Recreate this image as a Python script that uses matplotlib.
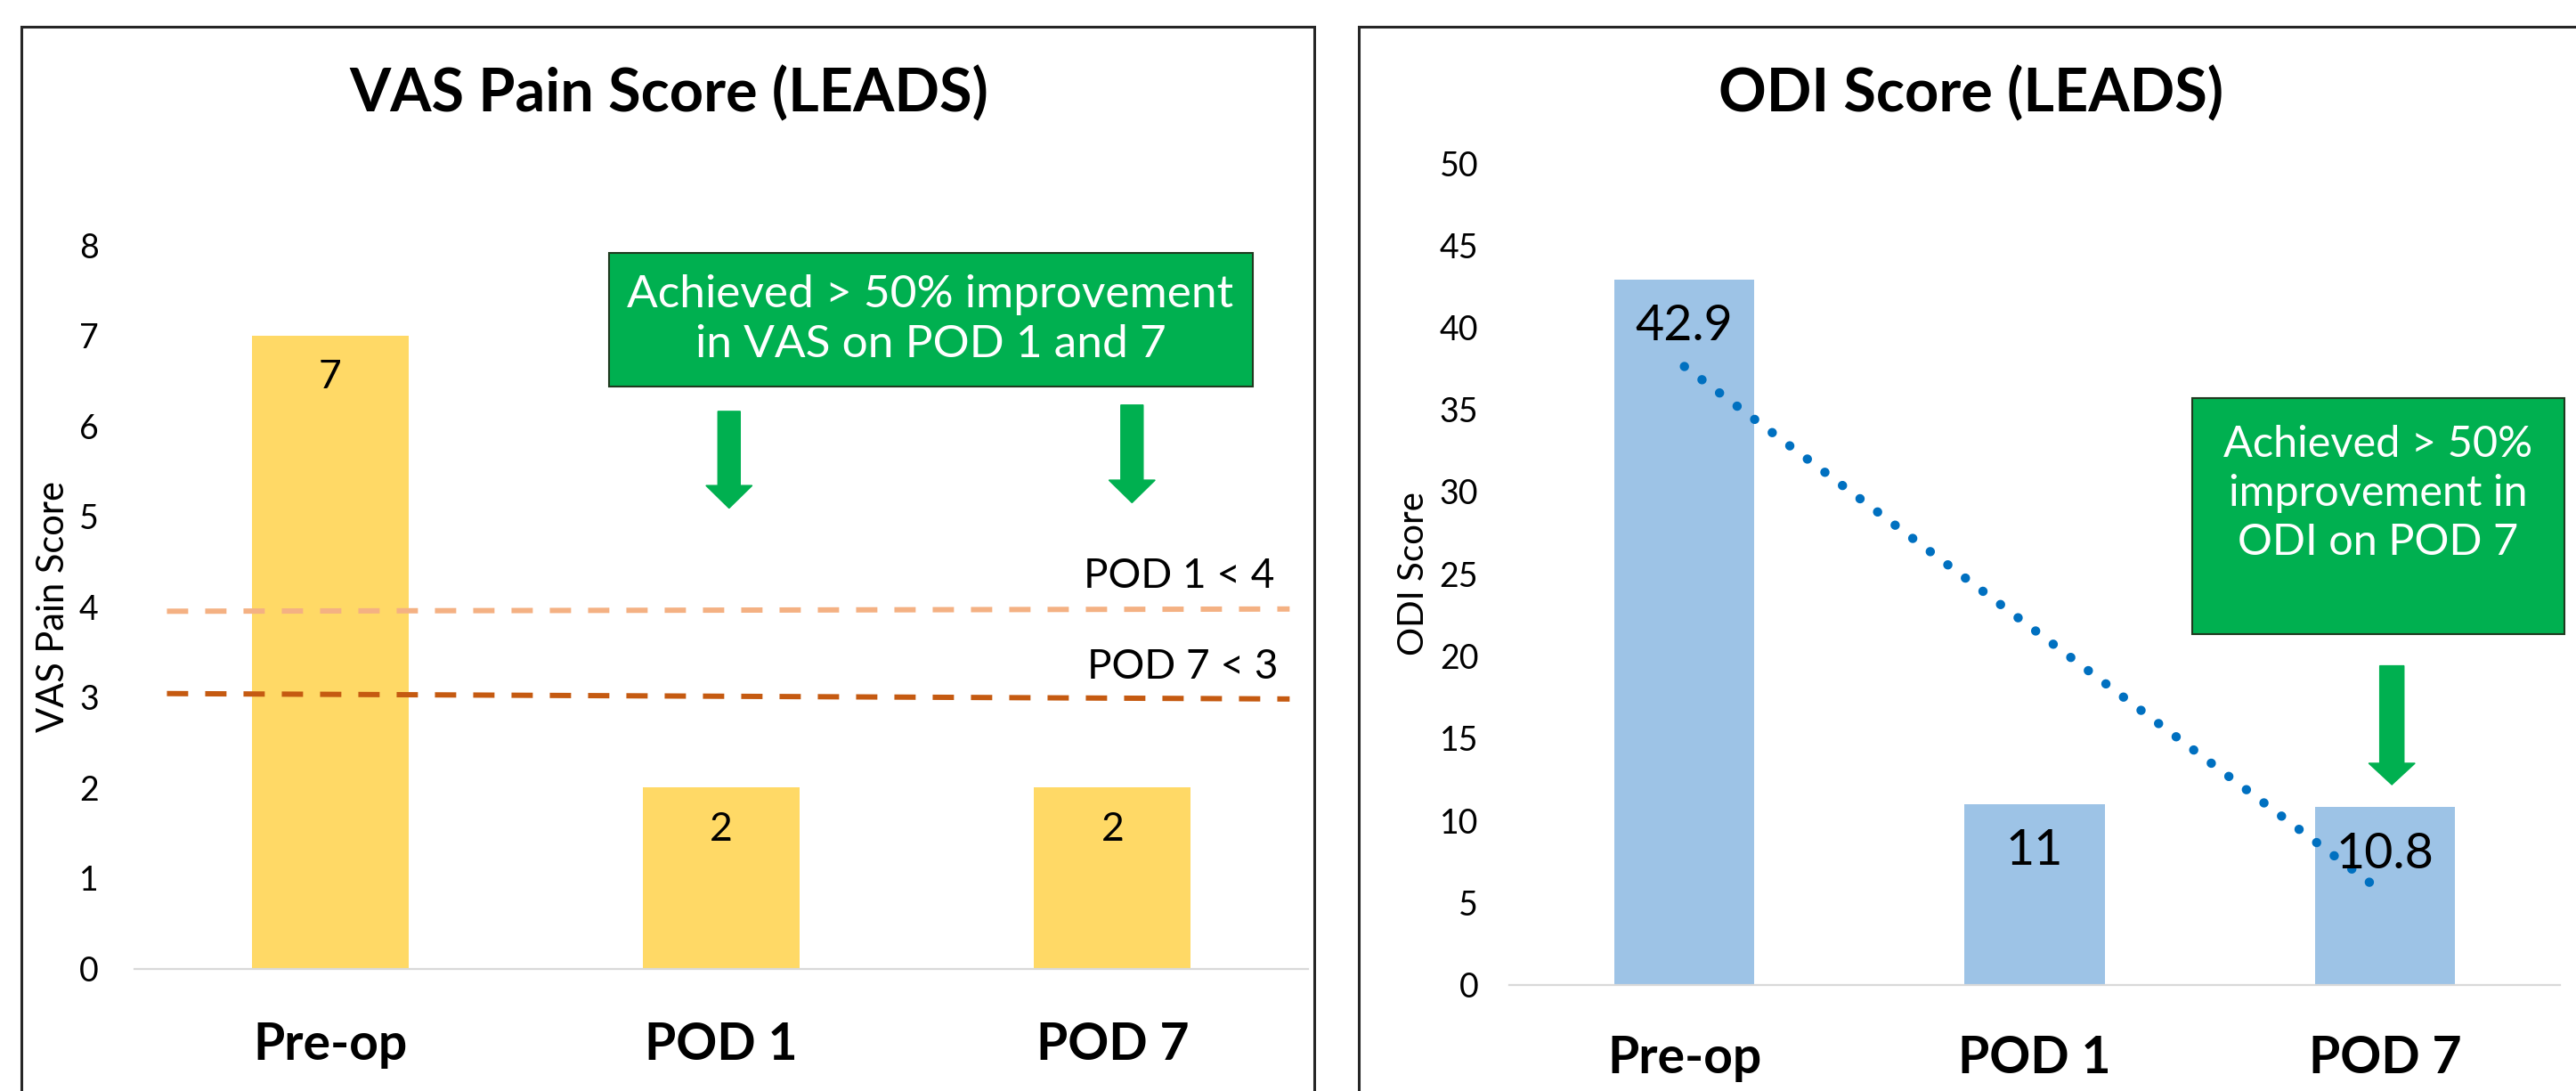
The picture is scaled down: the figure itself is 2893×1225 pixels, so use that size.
import numpy as np
import matplotlib
matplotlib.use("Agg")
import matplotlib.pyplot as plt
from matplotlib.patches import Rectangle, FancyArrow

plt.rcParams['font.family'] = ['Lato', 'DejaVu Sans']

# data
categories = ['Pre-op', 'POD 1', 'POD 7']
vas_scores = [7, 2, 2]
odi_scores = [42.9, 11, 10.8]
vas_targets = [4, 3]
vas_target_labels = ['POD 1 < 4', 'POD 7 < 3']

W, H = 2893, 1225
fig = plt.figure(figsize=(W / 100, H / 100), dpi=100)

# panel frames
fig.patches.append(Rectangle((24 / W, -0.05), (1476 - 24) / W, 1.05 - 30 / H,
                             transform=fig.transFigure, fill=False,
                             edgecolor='#262626', lw=2.2))
fig.patches.append(Rectangle((1526 / W, -0.05), 0.5, 1.05 - 30 / H,
                             transform=fig.transFigure, fill=False,
                             edgecolor='#262626', lw=2.2))


def style_axis(ax, ypad, xpad):
    for side in ['left', 'right', 'top']:
        ax.spines[side].set_visible(False)
    ax.spines['bottom'].set_color('#D9D9D9')
    ax.spines['bottom'].set_linewidth(1.6)
    ax.tick_params(length=0)
    ax.tick_params(axis='y', pad=ypad, labelsize=27)
    ax.tick_params(axis='x', pad=xpad, labelsize=41)
    for lab in ax.get_xticklabels():
        lab.set_fontweight('bold')
    ax.set_xlim(-0.5, 2.5)


x = np.arange(len(categories))

# ---- left: VAS
ax1 = fig.add_axes([151 / W, 1 - 1087.5 / H, 1318 / W, 812.5 / H])
ax1.bar(x, vas_scores, width=0.4, color='#FFD966', zorder=1)
ax1.set_ylim(0, 8)
ax1.set_yticks(range(0, 9))
ax1.set_xticks(x, categories)
style_axis(ax1, 29, 43)
ax1.set_ylabel('VAS Pain Score', fontsize=30, va='center')
ax1.yaxis.set_label_coords(-0.069, 0.5)
for xi, v in zip(x, vas_scores):
    ax1.annotate(str(v), (xi, v), xytext=(0, -34), textcoords='offset points',
                 ha='center', va='center', fontsize=32)

# threshold lines (hand-drawn, slightly off level)
ax1.plot([-0.417, 2.453], [vas_targets[0] - 0.05, vas_targets[0] - 0.025],
         color='#F4B183', lw=4.3, ls=(0, (4, 3.2)), dash_capstyle='butt', zorder=2)
ax1.plot([-0.417, 2.453], [vas_targets[1] + 0.04, vas_targets[1] - 0.02],
         color='#C55A11', lw=4.3, ls=(0, (4, 3.2)), dash_capstyle='butt', zorder=2)
ax1.text(2.415, 4.21, vas_target_labels[0], ha='right', va='baseline', fontsize=33)
ax1.text(2.424, 3.2, vas_target_labels[1], ha='right', va='baseline', fontsize=33)

ax1.add_patch(Rectangle((0.713, 6.43), 2.358 - 0.713, 7.91 - 6.43,
                        facecolor='#00B050', edgecolor='#1F3A1F', lw=1.5,
                        clip_on=False, zorder=3))
ax1.text(1.535, 7.17, 'Achieved > 50% improvement\nin VAS on POD 1 and 7',
         ha='center', va='center', color='white', fontsize=37,
         linespacing=1.27, zorder=4)
for ax_x, top, tip in [(1.02, 6.16, 5.09), (2.05, 6.23, 5.15)]:
    ax1.add_patch(FancyArrow(ax_x, top, 0, tip - top, width=0.057,
                             head_width=0.118, head_length=0.25,
                             length_includes_head=True, color='#00B050',
                             clip_on=False, zorder=3))

fig.text(751 / W, 1 - 125 / H, 'VAS Pain Score (LEADS)', ha='center',
         va='baseline', fontsize=48, fontweight='bold')

# ---- right: ODI
ax2 = fig.add_axes([1695 / W, 1 - 1105.5 / H, 1180 / W, 922.5 / H])
ax2.bar(x, odi_scores, width=0.4, color='#9DC3E6', zorder=1)
ax2.set_ylim(0, 50)
ax2.set_yticks(range(0, 51, 5))
ax2.set_xticks(x, categories)
style_axis(ax2, 25, 41)
ax2.set_ylabel('ODI Score', fontsize=29, va='center')
ax2.yaxis.set_label_coords(-0.0915, 0.5)
for xi, v in zip(x, odi_scores):
    ax2.annotate(f'{v:g}', (xi, v), xytext=(0, -38), textcoords='offset points',
                 ha='center', va='center', fontsize=40, zorder=3)

# linear trendline
coef = np.polyfit(x, odi_scores, 1)
ax2.plot(x[[0, -1]], np.polyval(coef, x[[0, -1]]), color='#0070C0', lw=7.5,
         ls=(0, (0.01, 2.36)), dash_capstyle='round', zorder=2)

ax2.add_patch(Rectangle((1.449, 21.33), 2.512 - 1.449, 35.7 - 21.33,
                        facecolor='#00B050', edgecolor='#1F3A1F', lw=1.5,
                        clip_on=False, zorder=3))
ax2.text(1.98, 29.9, 'Achieved > 50%\nimprovement in\nODI on POD 7',
         ha='center', va='center', color='white', fontsize=35,
         linespacing=1.3, zorder=4)
ax2.add_patch(FancyArrow(2.02, 19.4, 0, 12.17 - 19.4, width=0.069,
                         head_width=0.132, head_length=1.3,
                         length_includes_head=True, color='#00B050',
                         clip_on=False, zorder=3))

fig.text(2214 / W, 1 - 125 / H, 'ODI Score (LEADS)', ha='center',
         va='baseline', fontsize=48, fontweight='bold')

fig.savefig('out.png', dpi=100)
